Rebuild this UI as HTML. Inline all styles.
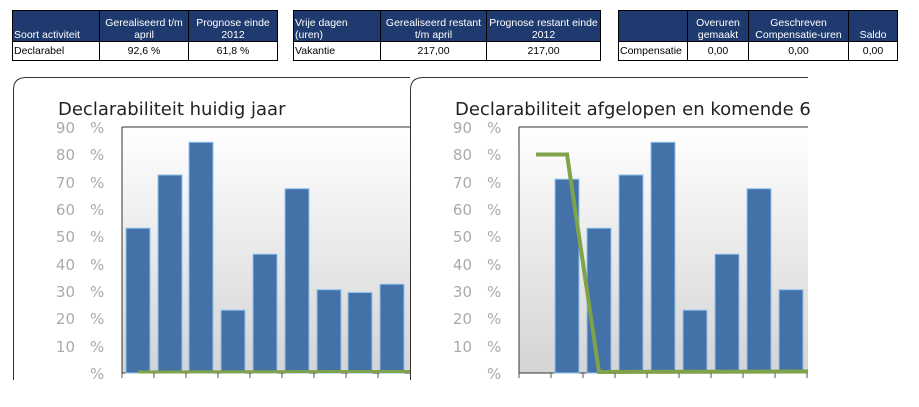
<!DOCTYPE html><html><head><style>
body{margin:0;width:919px;height:407px;background:#fff;position:relative;overflow:hidden;font-family:"Liberation Sans",Arial,sans-serif}
table{position:absolute;border-collapse:collapse;font-size:10.5px;table-layout:fixed}
td{border:1px solid #000;padding:0 1px;height:18px;text-align:center;white-space:nowrap;overflow:hidden}
th{background:#1f3a6e;color:#fff;font-weight:normal;border:1px solid #000;height:30px;padding:0 1px;font-size:10.5px;vertical-align:bottom;line-height:12px;white-space:nowrap;overflow:hidden}
.l{text-align:left}
</style></head><body>
<table style="left:12px;top:10px;width:266px"><tr><th class="l" style="width:84px">Soort activiteit</th><th style="width:86px">Gerealiseerd t/m<br>april</th><th>Prognose einde<br>2012</th></tr><tr><td class="l">Declarabel</td><td>92,6 %</td><td>61,8 %</td></tr></table>
<table style="left:293px;top:10px;width:308px"><tr><th class="l" style="width:84px">Vrije dagen<br>(uren)</th><th style="width:103px">Gerealiseerd restant<br>t/m april</th><th>Prognose restant einde<br>2012</th></tr><tr><td class="l">Vakantie</td><td>217,00</td><td>217,00</td></tr></table>
<table style="left:618px;top:10px;width:280px"><tr><th style="width:66px"></th><th style="width:58px">Overuren<br>gemaakt</th><th style="width:97px">Geschreven<br>Compensatie-uren</th><th>Saldo</th></tr><tr><td class="l">Compensatie</td><td>0,00</td><td>0,00</td><td>0,00</td></tr></table>
<svg width="919" height="407" style="position:absolute;left:0;top:0" font-family="DejaVu Sans, sans-serif">
<defs><linearGradient id="g" x1="0" y1="0" x2="0" y2="1"><stop offset="0" stop-color="#fff"/><stop offset="1" stop-color="#d4d4d4"/></linearGradient></defs>
<rect x="122" y="127" width="288" height="246" fill="url(#g)"/>
<rect x="519" y="127" width="289" height="246" fill="url(#g)"/>
<path d="M13.5,380 V90 Q13.5,77.5 26,77.5 H410" fill="none" stroke="#333"/>
<path d="M410.5,380 V90 Q410.5,77.5 423,77.5 H808" fill="none" stroke="#333"/>
<text x="58" y="115" font-size="18" fill="#222">Declarabiliteit huidig jaar</text>
<text x="455" y="115" font-size="18" fill="#222">Declarabiliteit afgelopen en komende 6</text>
<g fill="#aaa" font-size="15">
<g id="ya">
<text x="75" y="133" text-anchor="end">90</text><text x="90" y="133">%</text>
<text x="75" y="160" text-anchor="end">80</text><text x="90" y="160">%</text>
<text x="75" y="188" text-anchor="end">70</text><text x="90" y="188">%</text>
<text x="75" y="215" text-anchor="end">60</text><text x="90" y="215">%</text>
<text x="75" y="242" text-anchor="end">50</text><text x="90" y="242">%</text>
<text x="75" y="270" text-anchor="end">40</text><text x="90" y="270">%</text>
<text x="75" y="297" text-anchor="end">30</text><text x="90" y="297">%</text>
<text x="75" y="324" text-anchor="end">20</text><text x="90" y="324">%</text>
<text x="75" y="352" text-anchor="end">10</text><text x="90" y="352">%</text>
<text x="90" y="379">%</text>
</g>
<use href="#ya" x="397"/>
</g>
<g stroke="#333" fill="none">
<path d="M122,127 V373 H410 M122,127 H410"/>
<path d="M519,127 V373 H808 M519,127 H808"/>
</g>
<g fill="#4472a8" stroke="#8ec4ee" stroke-width="1">
<rect x="126" y="228.2" width="24" height="144.8"/>
<rect x="158" y="175" width="24" height="198"/>
<rect x="189" y="142.3" width="24" height="230.7"/>
<rect x="221" y="310.2" width="24" height="62.8"/>
<rect x="253" y="254.2" width="24" height="118.8"/>
<rect x="285" y="188.7" width="24" height="184.3"/>
<rect x="317" y="289.7" width="24" height="83.3"/>
<rect x="348" y="292.5" width="24" height="80.5"/>
<rect x="380" y="284.2" width="24" height="88.8"/>
<rect x="555" y="179.2" width="24" height="193.8"/>
<rect x="587" y="228.2" width="24" height="144.8"/>
<rect x="619" y="175" width="24" height="198"/>
<rect x="651" y="142.3" width="24" height="230.7"/>
<rect x="683" y="310.2" width="24" height="62.8"/>
<rect x="715" y="254.2" width="24" height="118.8"/>
<rect x="747" y="188.7" width="24" height="184.3"/>
<rect x="779" y="289.7" width="24" height="83.3"/>
</g>
<path d="M138,372 L410,371.5" stroke="#7fa24a" stroke-width="3" fill="none"/>
<path d="M536,154.5 H567 L599,372 L808,371.5" stroke="#7fa24a" stroke-width="4" fill="none"/>
<g stroke="#555">
<path d="M122,373v5M154,373v5M186,373v5M218,373v5M250,373v5M282,373v5M314,373v5M346,373v5M378,373v5"/>
<path d="M519,373v5M551,373v5M583,373v5M615,373v5M647,373v5M679,373v5M711,373v5M743,373v5M775,373v5M807,373v5"/>
</g>
</svg>
</body></html>
